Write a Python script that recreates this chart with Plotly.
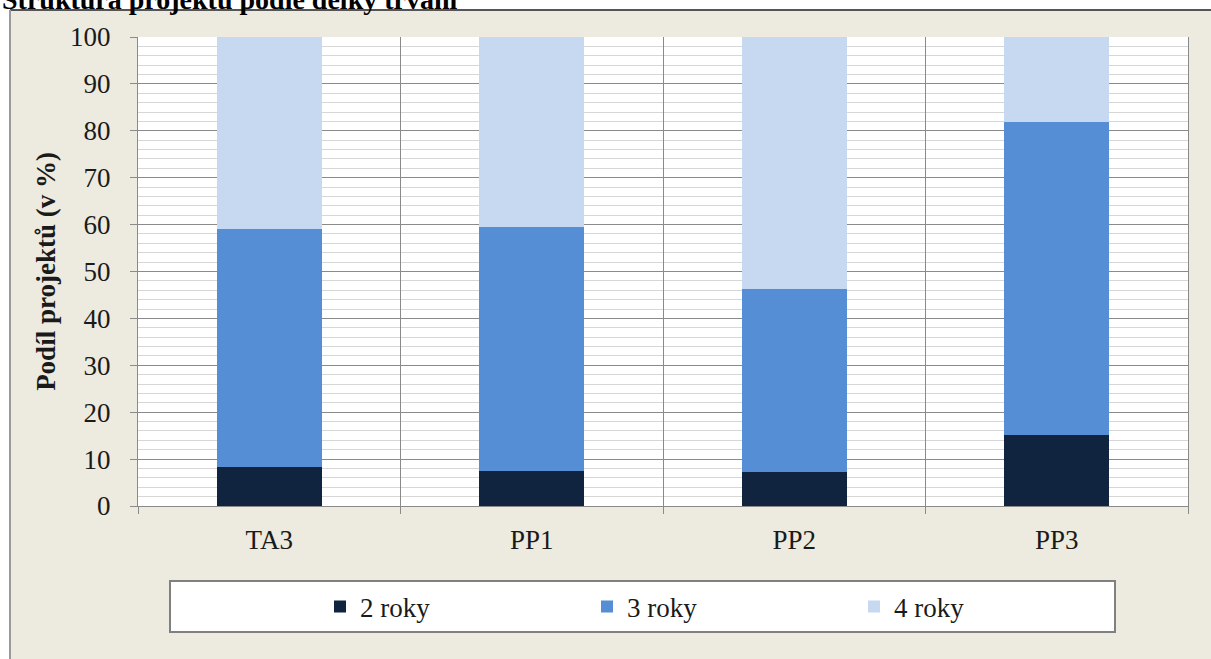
import plotly.graph_objects as go

categories = ["TA3", "PP1", "PP2", "PP3"]
series_names = ["2 roky", "3 roky", "4 roky"]
v_2roky = [8.3, 7.5, 7.2, 15.2]
v_3roky = [50.7, 52.0, 39.1, 66.6]
v_4roky = [41.0, 40.5, 53.7, 18.2]
colors = ["#10243F", "#558ED5", "#C6D9F1"]

W, H = 1211, 659
L, R, T, B = 138, 1188, 37, 506

def px(X):
    return (X - L) / (R - L)

def py(Y):
    return (B - Y) / (B - T)

fig = go.Figure()
for name, vals, col in zip(series_names, [v_2roky, v_3roky, v_4roky], colors):
    fig.add_trace(go.Bar(x=categories, y=vals, name=name, marker=dict(color=col, line=dict(width=0)), width=0.4))

serif = "Liberation Serif, Times New Roman, serif"
grey = "#8a8a8a"
txt = "#1a1a1a"
FS = 27

fig.update_layout(
    width=W, height=H,
    margin=dict(l=L, r=W - R, t=T, b=H - B, pad=0),
    barmode="stack",
    paper_bgcolor="#EDEADF",
    plot_bgcolor="#FFFFFF",
    font=dict(family=serif, size=FS, color=txt),
    showlegend=True,
    legend=dict(
        orientation="h", x=px(320), xanchor="left", y=py(607), yanchor="middle",
        bgcolor="rgba(0,0,0,0)", borderwidth=0,
        entrywidth=222, entrywidthmode="pixels",
        font=dict(family=serif, size=FS, color=txt),
        itemwidth=30, traceorder="normal",
    ),
)

fig.update_xaxes(
    type="category", tickson="boundaries", showgrid=True, gridcolor=grey, gridwidth=1,
    ticks="outside", ticklen=7, tickcolor=grey, showline=True, linecolor=grey, linewidth=1,
    tickfont=dict(family=serif, size=FS, color=txt), mirror=False, ticklabelstandoff=10,
)
fig.update_yaxes(
    range=[0, 100], dtick=10, tick0=0, showgrid=True, gridcolor=grey, gridwidth=1,
    ticks="outside", ticklen=7, tickcolor=grey, showline=True, linecolor=grey, linewidth=1,
    mirror=True, zeroline=False, ticklabelstandoff=14,
    tickfont=dict(family=serif, size=FS, color=txt),
    minor=dict(dtick=2, showgrid=True, gridcolor="#D6D6D6", gridwidth=1, ticks=""),
    title=dict(text="<b>Podíl projektů (v %)</b>", font=dict(family=serif, size=FS, color=txt), standoff=6),
)

shapes = [
    dict(type="rect", xref="paper", yref="paper", x0=px(-5), x1=px(W + 5), y0=py(-5), y1=py(10),
         fillcolor="#FFFFFF", line=dict(width=0), layer="below"),
    dict(type="rect", xref="paper", yref="paper", x0=px(-5), x1=px(10), y0=py(H + 5), y1=py(-5),
         fillcolor="#FFFFFF", line=dict(width=0), layer="below"),
    dict(type="line", xref="paper", yref="paper", x0=px(10), x1=px(W + 5), y0=py(10), y1=py(10),
         line=dict(color="#555555", width=2)),
    dict(type="line", xref="paper", yref="paper", x0=px(10), x1=px(10), y0=py(10), y1=py(H + 5),
         line=dict(color="#9a9a9a", width=2)),
    dict(type="rect", xref="paper", yref="paper", x0=px(170), x1=px(1115), y0=py(632), y1=py(581),
         fillcolor="#FFFFFF", line=dict(color="#808080", width=2), layer="below"),
]
fig.update_layout(shapes=shapes)

fig.add_annotation(
    text="<b>Struktura projektů podle délky trvání</b>", xref="paper", yref="paper",
    x=px(0), xanchor="left", y=py(17), yanchor="bottom", showarrow=False,
    font=dict(family=serif, size=28, color="#000000"),
)

fig.write_html(
    "out.html",
    config={"displayModeBar": False},
    post_script="document.body.style.margin='0px';document.body.style.overflow='hidden';",
)
